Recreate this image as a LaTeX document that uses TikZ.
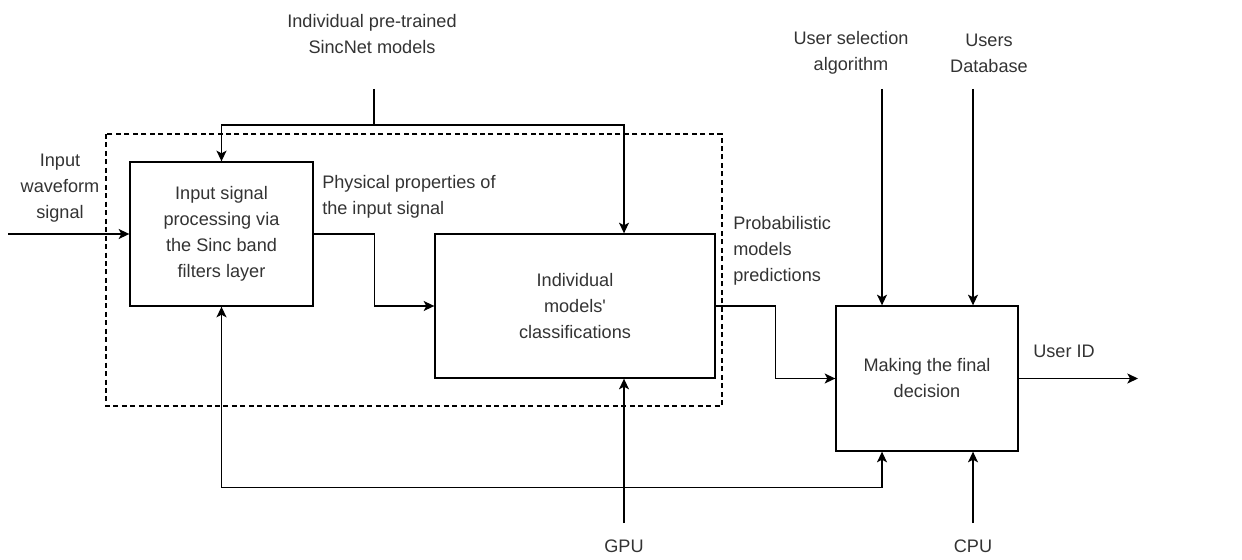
\documentclass[tikz,border=0pt]{standalone}
\usepackage{fontspec}
\setmainfont{Liberation Sans}
\usetikzlibrary{arrows.meta,positioning}

\begin{document}
\begin{tikzpicture}[x=0.75pt, y=-0.75pt,
  font=\fontsize{13.6}{19.5}\selectfont,
  blk/.style={draw, line width=1pt, align=center, inner sep=0pt, text=black!80},
  lbl/.style={align=center, text=black!80, inner sep=0pt},
  wire/.style={line width=1pt, -{Stealth[length=8pt, width=7.5pt, inset=2pt]}},
  wire2/.style={line width=1pt, {Stealth[length=8pt, width=7.5pt, inset=2pt]}-{Stealth[length=8pt, width=7.5pt, inset=2pt]}}]
  \useasboundingbox (0,0) rectangle (1242,560);

  % group of the SincNet part
  \draw[line width=0.8pt, dash pattern=on 3.75pt off 2.6pt] (106,134) rectangle (722,406);

  % blocks
  \node[blk, minimum width=137.25pt, minimum height=108pt] (procA) at (221.5,234)
    {Input signal\\processing via\\the Sinc band\\filters layer};
  \node[blk, minimum width=210pt, minimum height=108pt] (clsB) at (575,306)
    {Individual\\models\textquotesingle\\classifications};
  \node[blk, minimum width=136.5pt, minimum height=108.75pt] (decC) at (927,378.5)
    {Making the final\\decision};

  % labels
  \node[lbl] (inL) at (60,188) {Input\\waveform\\signal};
  \node[lbl] (sincL) at (372,34.5) {Individual pre-trained\\SincNet models};
  \node[lbl, align=left, anchor=west] (physL) at (322,196.5) {Physical properties of\\the input signal};
  \node[lbl, align=left, anchor=west] (probL) at (733,251) {Probabilistic\\models\\predictions};
  \node[lbl] (uselL) at (851,53) {User selection\\algorithm};
  \node[lbl] (udbL) at (989,53) {Users\\Database};
  \node[lbl] (uidL) at (1064,351) {User ID};
  \node[lbl] (gpuL) at (624,546) {GPU};
  \node[lbl] (cpuL) at (973,546) {CPU};

  % free ends
  \coordinate (inS) at (8,234);
  \coordinate (sincS) at (374,89);
  \coordinate (sincJ) at (374,125);
  \coordinate (uselS) at (882,89);
  \coordinate (udbS) at (973,89);
  \coordinate (gpuS) at (624,523);
  \coordinate (cpuS) at (973,523);
  \coordinate (outE) at (1138,378.5);

  % connectors
  \draw[wire] (inS) -- (procA.west);
  \draw[line width=1pt] (sincS) -- (sincJ);
  \draw[wire] (sincJ) -| (procA.north);
  \draw[wire] (sincJ) -| ([xshift=36.75pt]clsB.north);
  \draw[wire] (procA.east) -- ++(61,0) |- (clsB.west);
  \draw[wire] (clsB.east) -- ++(60,0) |- (decC.west);
  \draw[wire2] (procA.south) -- ++(0,181) -| ([xshift=-33.75pt]decC.south);
  \draw[wire] (gpuS) -- (gpuS |- clsB.south);
  \draw[wire] (cpuS) -- (cpuS |- decC.south);
  \draw[wire] (uselS) -- (uselS |- decC.north);
  \draw[wire] (udbS) -- (udbS |- decC.north);
  \draw[wire] (decC.east) -- (outE);
\end{tikzpicture}
\end{document}
